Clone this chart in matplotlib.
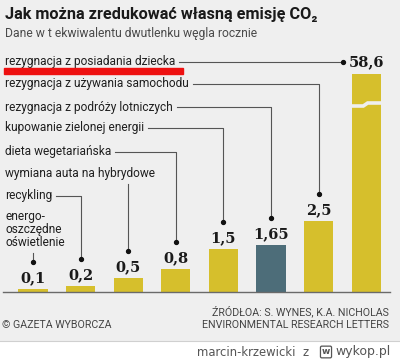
import numpy as np
import matplotlib
matplotlib.use("Agg")
import matplotlib.pyplot as plt
from matplotlib.patches import Rectangle

# Dane (t CO2 rocznie)
categories = [
    "energo-\noszczędne\noświetlenie",
    "recykling",
    "wymiana auta na hybrydowe",
    "dieta wegetariańska",
    "kupowanie zielonej energii",
    "rezygnacja z podróży lotniczych",
    "rezygnacja z używania samochodu",
    "rezygnacja z posiadania dziecka",
]
values = [0.1, 0.2, 0.5, 0.8, 1.5, 1.65, 2.5, 58.6]
value_labels = ["0,1", "0,2", "0,5", "0,8", "1,5", "1,65", "2,5", "58,6"]
highlight = "1,65"
underlined = "rezygnacja z posiadania dziecka"

title = "Jak można zredukować własną emisję CO₂"
subtitle = "Dane w t ekwiwalentu dwutlenku węgla rocznie"
source_lines = ["ŹRÓDŁOA: S. WYNES, K.A. NICHOLAS", "ENVIRONMENTAL RESEARCH LETTERS"]
credit = "© GAZETA WYBORCZA"

W, H = 400, 361
YELLOW = "#d6bf2c"
TEAL = "#4d6d79"
BG = "#efefef"
LINE = "#555555"
SANS = ["Roboto", "DejaVu Sans"]
SERIF = ["DejaVu Serif"]

BAR_CAP = 7.65     # wysokość rysowana dla przerwanego słupka
PX_PER_UNIT = 28.5
BASE_Y = 292       # linia bazowa w pikselach od góry
LABEL_FS = 8.6

fig = plt.figure(figsize=(W / 100, H / 100), dpi=100)
fig.patch.set_facecolor("white")

# tło grafiki (bez paska wykopu)
fig.add_artist(Rectangle((0, 1 - 340 / H), 1, 340 / H, color=BG,
                         transform=fig.transFigure, zorder=-10))

# osie słupków
ax = fig.add_axes([3 / W, (H - BASE_Y) / H, 387 / W, BASE_Y / H])
ax.set_xlim(-0.63, 7.5)
ax.set_ylim(0, BASE_Y / PX_PER_UNIT)
ax.patch.set_visible(False)
for s in ["left", "right", "top"]:
    ax.spines[s].set_visible(False)
ax.spines["bottom"].set_color("#6a6a6a")
ax.spines["bottom"].set_linewidth(1.0)
ax.set_xticks([])
ax.set_yticks([])

x = np.arange(len(values))
shown = [min(v, BAR_CAP) for v in values]
colors = [TEAL if lab == highlight else YELLOW for lab in value_labels]
ax.bar(x, shown, width=0.61, color=colors, zorder=2)

# warstwa na opisy (w pikselach)
over = fig.add_axes([0, 0, 1, 1])
over.set_xlim(0, W)
over.set_ylim(H, 0)
over.axis("off")
over.patch.set_visible(False)
over.plot([0, W], [340.5, 340.5], color="#d0d0d0", lw=0.8)

# tytuł i podtytuł
over.text(5, 14, title, family=SANS, weight="bold", fontsize=11.7,
          color="#1a1a1a", va="center", ha="left")
over.text(5, 33, subtitle, family=SANS, fontsize=8.7,
          color="#4a4a4a", va="center", ha="left")

renderer = fig.canvas.get_renderer()


def to_px(xd, yd):
    dx, dy = ax.transData.transform((xd, yd))
    return dx, H - dy


row_y = [217, 196, 173, 152, 128, 107, 84, 62]

for i, (cat, v, lab) in enumerate(zip(categories, values, value_labels)):
    bx, top = to_px(i, shown[i])
    ry = row_y[i]
    if "\n" in cat:
        t = over.text(5, ry - 7, cat, family=SANS, fontsize=LABEL_FS, color="#1f1f1f",
                      va="top", ha="left", linespacing=1.0)
    else:
        t = over.text(5, ry, cat, family=SANS, fontsize=LABEL_FS, color="#1f1f1f",
                      va="center", ha="left")
    bb = t.get_window_extent(renderer)
    t_right = bb.x1
    t_bottom = H - bb.y0

    if cat == underlined:
        over.add_patch(Rectangle((4, 68), 179, 6, color="#ee1111", zorder=4))

    if v > BAR_CAP:
        # słupek przerwany - etykieta na wysokości wiersza
        lt = over.text(bx, ry, lab, family=SERIF, weight="bold", fontsize=10.5,
                       color="#1a1a1a", ha="center", va="center")
        lb = lt.get_window_extent(renderer)
        dot_x = lb.x0 - 5
        over.plot([t_right + 4, dot_x], [ry, ry], color=LINE, lw=0.8)
        over.plot(dot_x, ry, "o", color="#111111", ms=2.8)
        # zygzak przerwania
        _, y_break = to_px(i, BAR_CAP * 0.86)
        x0, _ = to_px(i - 0.305, 0)
        x1, _ = to_px(i + 0.305, 0)
        w = x1 - x0
        over.plot([x0 - 1, x0 + 0.4 * w, x0 + 0.55 * w, x1 + 1],
                  [y_break + 1.5, y_break + 1.5, y_break - 1.5, y_break - 1.5],
                  color=BG, lw=2.6, solid_joinstyle="miter", zorder=5)
        continue

    lab_y = top - 11
    over.text(bx, lab_y, lab, family=SERIF, weight="bold", fontsize=10.5,
              color="#1a1a1a", ha="center", va="center")
    dot_y = top - 27
    if t_right + 6 < bx:
        over.plot([t_right + 4, bx, bx], [ry, ry, dot_y], color=LINE, lw=0.8)
    else:
        over.plot([bx, bx], [t_bottom + 4, dot_y], color=LINE, lw=0.8)
    over.plot(bx, dot_y, "o", color="#111111", ms=2.8)

# źródło i stopka
over.text(389, 311, source_lines[0], family=SANS, fontsize=7.7, color="#444444",
          ha="right", va="center")
over.text(389, 325, source_lines[1], family=SANS, fontsize=7.7, color="#444444",
          ha="right", va="center")
over.text(2, 325, credit, family=SANS, fontsize=7.7, color="#444444",
          ha="left", va="center")

# znak wodny
over.text(309, 352, "marcin-krzewicki  z", family=["DejaVu Sans"], fontsize=8.4,
          color="#555555", ha="right", va="center")
over.text(326, 352, "w", family=["DejaVu Sans"], fontsize=6.5, weight="bold",
          color="#555555", ha="center", va="center",
          bbox=dict(boxstyle="round,pad=0.15", fc="white", ec="#555555", lw=0.9))
over.text(335, 352, "wykop.pl", family=["DejaVu Sans"], fontsize=9,
          color="#555555", ha="left", va="center")

fig.savefig("out.png", dpi=100)
